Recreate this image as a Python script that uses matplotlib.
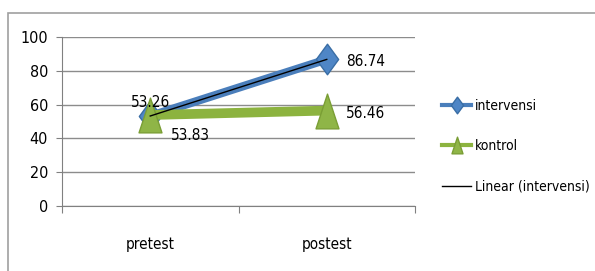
import matplotlib.pyplot as plt
from matplotlib.lines import Line2D
from matplotlib.patches import Rectangle
from matplotlib.path import Path
from matplotlib import font_manager

categories = ['pretest', 'postest']
intervensi = [53.26, 86.74]
kontrol = [53.83, 56.46]
y_ticks = [0, 20, 40, 60, 80, 100]

names = {f.name for f in font_manager.fontManager.ttflist}
narrow = [n for n in ['Liberation Sans Narrow', 'DejaVu Sans Condensed'] if n in names]
plt.rcParams['font.family'] = narrow + ['DejaVu Sans']
plt.rcParams['font.stretch'] = 'condensed'

diamond = Path([(0, 1), (0.73, 0), (0, -1), (-0.73, 0), (0, 1)],
               [Path.MOVETO, Path.LINETO, Path.LINETO, Path.LINETO, Path.CLOSEPOLY])
tri = Path([(-0.66, -1), (0.66, -1), (0, 1), (-0.66, -1)],
           [Path.MOVETO, Path.LINETO, Path.LINETO, Path.CLOSEPOLY])

fig = plt.figure(figsize=(5.95, 2.71), dpi=100)
fig.patches.append(Rectangle((8 / 595, -0.1), 1.2, 1 - 13 / 271 + 0.1, transform=fig.transFigure,
                             fill=False, edgecolor='#a0a0a0', linewidth=1.2))
ax = fig.add_axes([62 / 595, 1 - 206 / 271, 353 / 595, 169 / 271])

x = [0, 1]
blue = '#4a7ebb'
green = '#8cb33f'
ax.plot(x, kontrol, color=green, linewidth=7, marker=tri, markersize=25,
        markerfacecolor='#8fb547', markeredgecolor='#7a9e35', zorder=3, solid_capstyle='butt')
ax.plot(x, intervensi, color=blue, linewidth=6, marker=diamond, markersize=22,
        markerfacecolor='#4f86c6', markeredgecolor='#3a6ea5', zorder=2, solid_capstyle='butt')
ax.plot(x, intervensi, color='black', linewidth=1, zorder=4)

ax.text(x[0] - 0.11, intervensi[0] + 8, '%.2f' % intervensi[0], fontsize=11, va='center', zorder=5)
ax.text(x[0] + 0.12, kontrol[0] - 12, '%.2f' % kontrol[0], fontsize=11, va='center', zorder=5)
ax.text(x[1] + 0.11, intervensi[1] - 1.5, '%.2f' % intervensi[1], fontsize=11, va='center', zorder=5)
ax.text(x[1] + 0.11, kontrol[1] - 2, '%.2f' % kontrol[1], fontsize=11, va='center', zorder=5)

ax.set_xlim(-0.5, 1.5)
ax.set_ylim(0, 100)
ax.set_yticks(y_ticks)
ax.set_xticks([-0.5, 0.5, 1.5], minor=False)
ax.set_xticklabels([])
ax.set_xticks(x, minor=True)
ax.set_xticklabels(categories, minor=True, fontsize=11)
ax.tick_params(axis='x', which='minor', length=0, pad=22)
ax.tick_params(axis='x', which='major', length=5, color='#808080', direction='out')
ax.tick_params(axis='y', length=4, color='#808080', labelsize=11.5, pad=6)
ax.yaxis.grid(True, color='#8c8c8c', linewidth=1)
ax.set_axisbelow(True)
for s in ['top', 'right']:
    ax.spines[s].set_visible(False)
ax.spines['left'].set_color('#808080')
ax.spines['bottom'].set_color('#808080')

handles = [
    Line2D([], [], color=blue, linewidth=3, marker=diamond, markersize=12,
           markerfacecolor='#4f86c6', markeredgecolor='#3a6ea5'),
    Line2D([], [], color=green, linewidth=3, marker=tri, markersize=12,
           markerfacecolor='#8fb547', markeredgecolor='#7a9e35'),
    Line2D([], [], color='black', linewidth=1),
]
fig.legend(handles, ['intervensi', 'kontrol', 'Linear (intervensi)'], loc='center left',
           bbox_to_anchor=(435 / 595, 1 - 146 / 271), frameon=False, fontsize=10,
           handlelength=2.1, handletextpad=0.3, labelspacing=1.9, borderpad=0)

fig.savefig('out.png', dpi=100)
